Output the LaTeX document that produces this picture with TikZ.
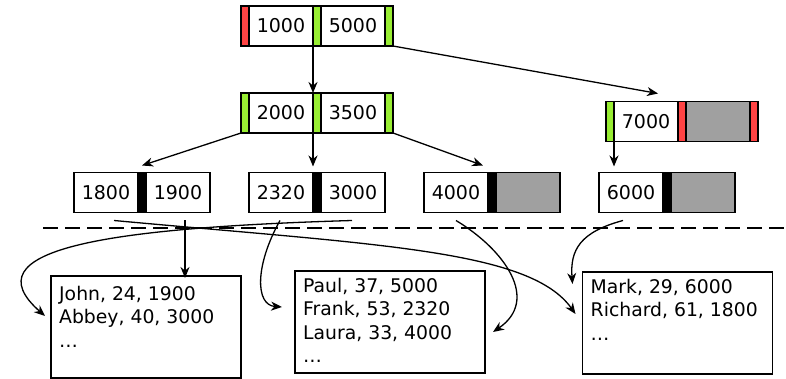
\documentclass[tikz,border=0pt]{standalone}
\usepackage{fontspec}
\setmainfont{DejaVu Sans}
\usetikzlibrary{arrows.meta, positioning}

\definecolor{ptrgreen}{RGB}{153,238,51}
\definecolor{ptrred}{RGB}{255,68,68}
\definecolor{emptygray}{RGB}{160,160,160}

\begin{document}
\begin{tikzpicture}[x=1pt, y=-1pt, >={Stealth[length=11pt, width=9pt, inset=3.5pt]},
    keybox/.style={draw, line width=1.2pt, fill=white, minimum width=64pt, minimum height=40pt,
        inner sep=0pt, outer sep=0pt, font=\fontsize{19pt}{22pt}\selectfont},
    ptrbox/.style={draw, line width=1.2pt, minimum width=8pt, minimum height=40pt,
        inner sep=0pt, outer sep=0pt},
    record/.style={draw, line width=1.2pt, minimum width=190pt, minimum height=102pt,
        inner sep=0pt, outer sep=0pt},
    rows/.style={align=left, inner sep=0pt, anchor=north west,
        font=\fontsize{18.8pt}{23.5pt}\selectfont},
    link/.style={line width=1.3pt}]
    \useasboundingbox (0,0) rectangle (786,379);

    % Root
    \node [ptrbox, fill=ptrred] (root_p0) at (245,26) {};
    \node [keybox, right=0pt of root_p0] (root_k1) {1000};
    \node [ptrbox, fill=ptrgreen, right=0pt of root_k1] (root_p1) {};
    \node [keybox, right=0pt of root_p1] (root_k2) {5000};
    \node [ptrbox, fill=ptrgreen, right=0pt of root_k2] (root_p2) {};

    % Inner node
    \node [ptrbox, fill=ptrgreen, below=47pt of root_p0] (inner_p0) {};
    \node [keybox, right=0pt of inner_p0] (inner_k1) {2000};
    \node [ptrbox, fill=ptrgreen, right=0pt of inner_k1] (inner_p1) {};
    \node [keybox, right=0pt of inner_p1] (inner_k2) {3500};
    \node [ptrbox, fill=ptrgreen, right=0pt of inner_k2] (inner_p2) {};

    % Right inner node
    \node [ptrbox, fill=ptrgreen] (right_p0) at (610,121.5) {};
    \node [keybox, right=0pt of right_p0] (right_k1) {7000};
    \node [ptrbox, fill=ptrred, right=0pt of right_k1] (right_p1) {};
    \node [keybox, fill=emptygray, right=0pt of right_p1] (right_k2) {};
    \node [ptrbox, fill=ptrred, right=0pt of right_k2] (right_p2) {};

    % Leaves
    \node [keybox] (leaf_k1) at (106,192.5) {1800};
    \node [ptrbox, fill=black, right=0pt of leaf_k1] (leaf_p1) {};
    \node [keybox, right=0pt of leaf_p1] (leaf_k2) {1900};
    \node [keybox, right=39pt of leaf_k2] (leaf_k3) {2320};
    \node [ptrbox, fill=black, right=0pt of leaf_k3] (leaf_p2) {};
    \node [keybox, right=0pt of leaf_p2] (leaf_k4) {3000};
    \node [keybox, right=39pt of leaf_k4] (leaf_k5) {4000};
    \node [ptrbox, fill=black, right=0pt of leaf_k5] (leaf_p3) {};
    \node [keybox, fill=emptygray, right=0pt of leaf_p3] (leaf_k6) {};
    \node [keybox, right=39pt of leaf_k6] (leaf_k7) {6000};
    \node [ptrbox, fill=black, right=0pt of leaf_k7] (leaf_p4) {};
    \node [keybox, fill=emptygray, right=0pt of leaf_p4] (leaf_k8) {};

    % Records
    \node [record] (rec_a) at (146,327) {};
    \node [rows] (rec_a_txt) at ([shift={(8pt,-10pt)}]rec_a.north west) {John, 24, 1900\\Abbey, 40, 3000\\…};
    \node [record] (rec_b) at (390,322) {};
    \node [rows] (rec_b_txt) at ([shift={(8pt,-7pt)}]rec_b.north west) {Paul, 37, 5000\\Frank, 53, 2320\\Laura, 33, 4000\\…};
    \node [record] (rec_c) at (677.5,323) {};
    \node [rows] (rec_c_txt) at ([shift={(8pt,-7pt)}]rec_c.north west) {Mark, 29, 6000\\Richard, 61, 1800\\…};

    % Separator
    \draw [line width=2.6pt, dash pattern=on 15pt off 7pt] (43,228) -- (786,228);

    % Tree pointers
    \draw [->, link] (root_p1.south west) -- (inner_p1.north west);
    \draw [->, link] (root_p2.south east) -- ([shift={(-20pt,8pt)}]right_k1.north east);
    \draw [->, link] (inner_p0.south west) -- ([yshift=7pt]leaf_p1.north);
    \draw [->, link] (inner_p1.south west) -- ([yshift=6pt]leaf_p2.north west);
    \draw [->, link] (inner_p2.south east) -- ([shift={(-5pt,7pt)}]leaf_p3.north west);
    \draw [->, link, shorten >=6pt] (right_p0.south east) -- (right_p0.south east |- leaf_k7.north);

    % Record pointers
    \draw [->, link] ([shift={(8pt,-8pt)}]leaf_k1.south) .. controls (380,245) and (530,250) .. ([shift={(-7pt,9pt)}]rec_c.west);
    \draw [->, link, shorten >=6pt] ([shift={(7pt,-8pt)}]leaf_k2.south) -- ([shift={(7pt,-8pt)}]leaf_k2.south |- rec_a.north);
    \draw [->, link] ([shift={(-1pt,-8pt)}]leaf_k3.south) .. controls (255,265) and (255,305) .. ([shift={(-13pt,15pt)}]rec_b.west);
    \draw [->, link] ([shift={(-1pt,-8pt)}]leaf_k4.south) .. controls (100,228) and (-30,250) .. ([shift={(-6pt,11pt)}]rec_a.west);
    \draw [->, link] ([yshift=-8pt]leaf_k5.south) .. controls (505,250) and (540,300) .. ([shift={(8pt,-10pt)}]rec_b.east);
    \draw [->, link] ([shift={(-8pt,-8pt)}]leaf_k7.south) .. controls (580,232) and (570,250) .. ([shift={(-10pt,-12pt)}]rec_c.north west);
\end{tikzpicture}
\end{document}
